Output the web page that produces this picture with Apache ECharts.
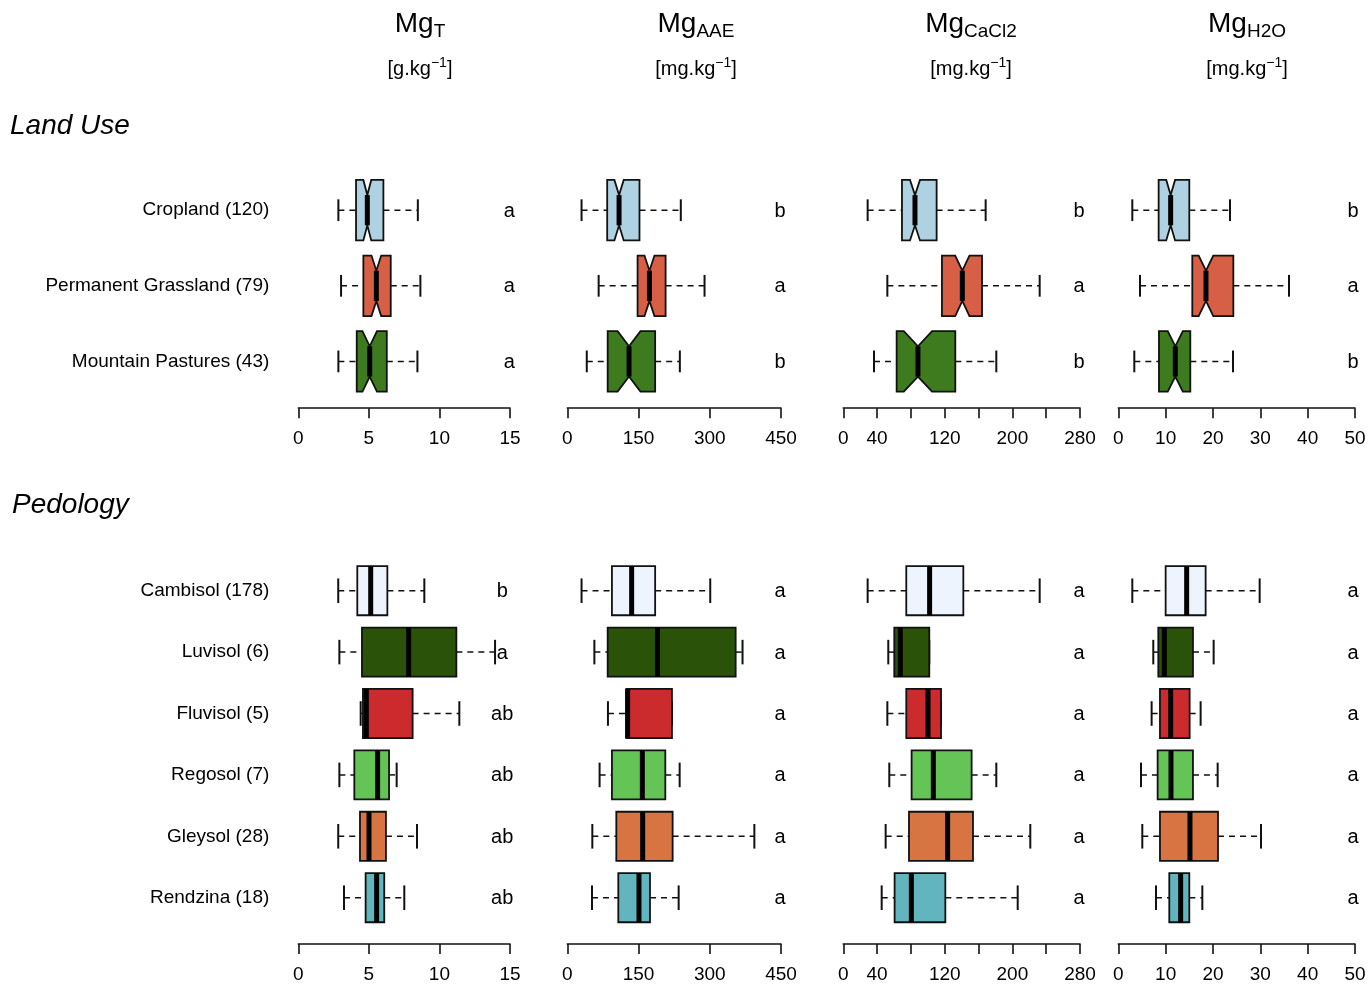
<!DOCTYPE html>
<html>
<head>
<meta charset="utf-8">
<title>Magnesium fractions by land use and soil type</title>
<script src="https://cdn.jsdelivr.net/npm/echarts@6/dist/echarts.min.js"></script>
<style>
  html, body { margin: 0; padding: 0; background: #fff; }
  #chart { width: 1369px; height: 985px; }
</style>
</head>
<body>
<div id="chart"></div>
<script>
// ---- categories and group sizes ----
const landUseNames = ['Cropland', 'Permanent Grassland', 'Mountain Pastures'];
const landUseN = [120, 79, 43];
const pedologyNames = ['Cambisol', 'Luvisol', 'Fluvisol', 'Regosol', 'Gleysol', 'Rendzina'];
const pedologyN = [178, 6, 5, 7, 28, 18];

// ---- box statistics: [lower whisker, Q1, median, Q3, upper whisker] ----
const landUseMgT     = [[2.84, 4.09, 4.89, 6.03, 8.47], [3.03, 4.61, 5.53, 6.55, 8.65], [2.84, 4.14, 5.06, 6.27, 8.44]];
const landUseMgAAE   = [[30, 84, 109, 152, 239], [66, 148, 173, 207, 289], [41, 85, 130, 185, 237]];
const landUseMgCaCl2 = [[28.8, 69.4, 84.8, 110.4, 168.4], [52.1, 116.7, 140.8, 164.1, 232.3], [36.3, 63.1, 88.3, 132.5, 181]];
const landUseMgH2O   = [[2.96, 8.52, 11.06, 15.0, 23.6], [4.58, 15.63, 18.52, 24.3, 36.06], [3.38, 8.59, 12.04, 15.21, 24.23]];

const pedologyMgT = [[2.83, 4.18, 5.13, 6.31, 8.93], [2.91, 4.51, 7.82, 11.2, 13.94], [4.42, 4.58, 4.82, 8.10, 11.41],
                     [2.91, 3.97, 5.62, 6.43, 6.97], [2.83, 4.37, 5.01, 6.21, 8.41], [3.24, 4.77, 5.55, 6.09, 7.51]];
const pedologyMgAAE = [[30, 94, 135.5, 185, 301], [57, 85, 190, 354.5, 369], [85.6, 124.3, 127, 220.4, 220.4],
                       [68, 94, 158, 206.4, 236.6], [52.7, 103.2, 158.7, 221.8, 393.9], [52, 107.4, 150.9, 174.1, 234.5]];
const pedologyMgCaCl2 = [[28.8, 74.5, 102.1, 142, 232.3], [53.2, 60.3, 67.4, 101.7, 101.7], [52.1, 74.5, 100.2, 115.6, 115.6],
                         [54.4, 80.8, 106.5, 151.8, 181], [50.1, 77.7, 123.4, 153.4, 221.2], [45.4, 60.7, 80.5, 120.7, 206.3]];
const pedologyMgH2O = [[2.96, 10, 14.44, 18.45, 29.86], [7.39, 8.45, 9.72, 15.77, 20.14], [7.04, 8.8, 11.06, 15.07, 17.39],
                       [4.79, 8.31, 11.13, 15.77, 20.99], [5.07, 8.8, 15.14, 21.06, 30.14], [7.96, 10.77, 13.17, 15.0, 17.75]];

// ---- significance letters ----
const landUseLettersMgT     = ['a', 'a', 'a'];
const landUseLettersMgAAE   = ['b', 'a', 'b'];
const landUseLettersMgCaCl2 = ['b', 'a', 'b'];
const landUseLettersMgH2O   = ['b', 'a', 'b'];
const pedologyLettersMgT     = ['b', 'a', 'ab', 'ab', 'ab', 'ab'];
const pedologyLettersMgAAE   = ['a', 'a', 'a', 'a', 'a', 'a'];
const pedologyLettersMgCaCl2 = ['a', 'a', 'a', 'a', 'a', 'a'];
const pedologyLettersMgH2O   = ['a', 'a', 'a', 'a', 'a', 'a'];

// ---- value axes ----
const axisMax = [15, 450, 280, 50];
const axisStep = [5, 150, 40, 10];
const caCl2TickLabels = [0, 40, 120, 200, 280];

// ---- fill colours ----
const landUseColors = ['#AFD2E3', '#D65F45', '#3E7B1F'];
const pedologyColors = ['#EEF4FD', '#2B5209', '#CC2B2E', '#64C556', '#D87442', '#62B5BF'];

// ---------------------------------------------------------------
const FONT = "'Liberation Sans', Arial, Helvetica, sans-serif";
const INK = '#111';

const cols = [
  { left: 298.3, right: 510 },
  { left: 567.3, right: 781 },
  { left: 843.3, right: 1080 },
  { left: 1118.3, right: 1355 }
];
const rows = [
  { top: 172.4, height: 226.8, offset: 9, capFrac: 0.36, notched: true },
  { top: 560, height: 368.4, offset: 15.6, capFrac: 0.5, notched: false }
];
// where the letters sit, in axis units
const letterPos = [
  [14.95, 448, 278.8, 49.6],
  [14.45, 448, 278.8, 49.6]
];

const panels = [
  { row: 0, names: landUseNames, n: landUseN, colors: landUseColors, stats: [landUseMgT, landUseMgAAE, landUseMgCaCl2, landUseMgH2O],
    letters: [landUseLettersMgT, landUseLettersMgAAE, landUseLettersMgCaCl2, landUseLettersMgH2O] },
  { row: 1, names: pedologyNames, n: pedologyN, colors: pedologyColors, stats: [pedologyMgT, pedologyMgAAE, pedologyMgCaCl2, pedologyMgH2O],
    letters: [pedologyLettersMgT, pedologyLettersMgAAE, pedologyLettersMgCaCl2, pedologyLettersMgH2O] }
];

const grids = [], xAxes = [], yAxes = [], series = [];

function makeRenderer(group, colIdx) {
  const row = rows[group.row];
  return function (params, api) {
    const cat = api.value(0);
    const lo = api.value(1), q1 = api.value(2), med = api.value(3), q3 = api.value(4), hi = api.value(5);
    const band = api.size([0, 1])[1];
    const half = band * 0.8 / 2;
    const capHalf = half * row.capFrac;
    const y = api.coord([med, cat])[1];
    const X = v => api.coord([v, cat])[0];
    const children = [];
    const dash = { stroke: INK, lineWidth: 1.5, lineDash: [6, 5] };
    if (lo < q1) children.push({ type: 'line', shape: { x1: X(lo), y1: y, x2: X(q1), y2: y }, style: dash });
    if (hi > q3) children.push({ type: 'line', shape: { x1: X(q3), y1: y, x2: X(hi), y2: y }, style: dash });
    [lo, hi].forEach(v => children.push({
      type: 'line', shape: { x1: X(v), y1: y - capHalf, x2: X(v), y2: y + capHalf },
      style: { stroke: INK, lineWidth: 2 }
    }));
    const fill = group.colors[cat];
    let medHalf = half;
    if (row.notched) {
      // notch limits: median +/- 1.58 * IQR / sqrt(n)
      const d = 1.58 * (q3 - q1) / Math.sqrt(group.n[cat]);
      const c1 = med - d, c2 = med + d;
      medHalf = half * 0.5;
      children.push({
        type: 'polygon',
        shape: { points: [
          [X(q1), y - half], [X(c1), y - half], [X(med), y - medHalf], [X(c2), y - half], [X(q3), y - half],
          [X(q3), y + half], [X(c2), y + half], [X(med), y + medHalf], [X(c1), y + half], [X(q1), y + half]
        ] },
        style: { fill: fill, stroke: INK, lineWidth: 1.8 }
      });
    } else {
      children.push({
        type: 'rect', shape: { x: X(q1), y: y - half, width: X(q3) - X(q1), height: 2 * half },
        style: { fill: fill, stroke: INK, lineWidth: 1.8 }
      });
    }
    children.push({
      type: 'line', shape: { x1: X(med), y1: y - medHalf, x2: X(med), y2: y + medHalf },
      style: { stroke: '#000', lineWidth: 5 }
    });
    children.push({
      type: 'text',
      style: { text: group.letters[colIdx][cat], x: X(letterPos[group.row][colIdx]), y: y + 1,
        align: 'center', verticalAlign: 'middle', font: '20px ' + FONT, fill: '#000' }
    });
    return { type: 'group', children: children };
  };
}

panels.forEach(group => {
  const row = rows[group.row];
  const labels = group.names.map((s, i) => s + ' (' + group.n[i] + ')');
  cols.forEach((c, ci) => {
    const idx = grids.length;
    grids.push({ left: c.left, width: c.right - c.left, top: row.top, height: row.height, containLabel: false });
    xAxes.push({
      type: 'value', gridIndex: idx, min: 0, max: axisMax[ci], interval: axisStep[ci],
      position: 'bottom', offset: row.offset,
      axisLine: { show: true, lineStyle: { color: INK, width: 1.6 } },
      axisTick: { show: true, inside: false, length: 10, lineStyle: { color: INK, width: 1.6 } },
      splitLine: { show: false },
      axisLabel: {
        show: true, margin: 21, color: '#000', fontSize: 19, fontFamily: FONT,
        showMinLabel: true, showMaxLabel: true,
        formatter: v => (ci === 2 && caCl2TickLabels.indexOf(v) < 0) ? '' : String(v)
      }
    });
    yAxes.push({
      type: 'category', gridIndex: idx, data: labels, inverse: true,
      axisLine: { show: false }, axisTick: { show: false }, splitLine: { show: false },
      axisLabel: { show: ci === 0, margin: 29, color: '#000', fontSize: 19, fontFamily: FONT }
    });
    series.push({
      type: 'custom', xAxisIndex: idx, yAxisIndex: idx, silent: true, clip: false,
      renderItem: makeRenderer(group, ci),
      encode: { y: 0, x: [1, 2, 3, 4, 5] },
      data: group.stats[ci].map((s, i) => [i].concat(s))
    });
  });
});

// ---- column headings with sub/superscripts ----
const measureCtx = document.createElement('canvas').getContext('2d');
function textWidth(t, size) { measureCtx.font = size + 'px ' + FONT; return measureCtx.measureText(t).width; }

// parts: [text, fontSize, baseline shift]; laid out left to right, centred on cx
function scriptedText(cx, baseline, parts) {
  const widths = parts.map(p => textWidth(p[0], p[1]));
  const total = widths.reduce((a, b) => a + b, 0);
  let x = cx - total / 2;
  const out = [];
  parts.forEach((p, i) => {
    out.push({
      type: 'text', x: x, y: baseline + p[2] - 0.31 * p[1],
      style: { text: p[0], font: p[1] + 'px ' + FONT, fill: '#000', align: 'left', verticalAlign: 'middle' }
    });
    x += widths[i];
  });
  return out;
}

const headings = [
  { cx: 420, sub: 'T', unit: '[g.kg' },
  { cx: 696, sub: 'AAE', unit: '[mg.kg' },
  { cx: 971, sub: 'CaCl2', unit: '[mg.kg' },
  { cx: 1247, sub: 'H2O', unit: '[mg.kg' }
];
let graphics = [];
headings.forEach(h => {
  graphics = graphics.concat(scriptedText(h.cx, 33, [['Mg', 28, 0], [h.sub, 19, 5]]));
  graphics = graphics.concat(scriptedText(h.cx, 76, [[h.unit, 20, 0], ['\u22121', 14, -9], [']', 20, 0]]));
});
graphics.push({ type: 'text', x: 10, y: 126, style: { text: 'Land Use', font: 'italic 28px ' + FONT, fill: '#000', verticalAlign: 'middle' } });
graphics.push({ type: 'text', x: 12, y: 505, style: { text: 'Pedology', font: 'italic 28px ' + FONT, fill: '#000', verticalAlign: 'middle' } });

const chart = echarts.init(document.getElementById('chart'), null, { renderer: 'canvas' });
chart.setOption({
  backgroundColor: '#fff',
  animation: false,
  textStyle: { fontFamily: FONT },
  grid: grids,
  xAxis: xAxes,
  yAxis: yAxes,
  series: series,
  graphic: graphics
});
</script>
</body>
</html>
